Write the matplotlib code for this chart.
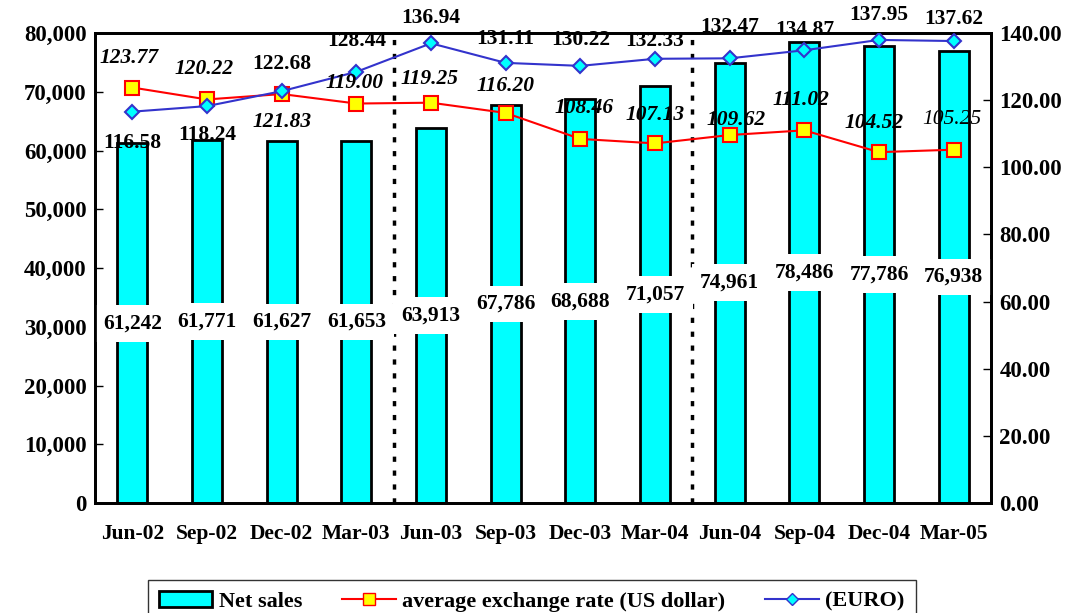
import numpy as np
import matplotlib
matplotlib.use('Agg')
import matplotlib.pyplot as plt
from matplotlib.patches import Patch
from matplotlib.lines import Line2D
from matplotlib.ticker import FuncFormatter, MultipleLocator

plt.rcParams['font.family'] = ['Liberation Serif', 'DejaVu Serif']
plt.rcParams['font.weight'] = 'bold'

quarters = ['Jun-02', 'Sep-02', 'Dec-02', 'Mar-03', 'Jun-03', 'Sep-03',
            'Dec-03', 'Mar-04', 'Jun-04', 'Sep-04', 'Dec-04', 'Mar-05']
net_sales = [61242, 61771, 61627, 61653, 63913, 67786,
             68688, 71057, 74961, 78486, 77786, 76938]
usd_rate = [123.77, 120.22, 121.83, 119.00, 119.25, 116.20,
            108.46, 107.13, 109.62, 111.02, 104.52, 105.25]
euro_rate = [116.58, 118.24, 122.68, 128.44, 136.94, 131.11,
             130.22, 132.33, 132.47, 134.87, 137.95, 137.62]

# label offsets in pixels (x, y), picked by eye
usd_off = [(-3, 30), (-3, 30), (0, -28), (-2, 21), (-2, 24), (0, 27),
           (4, 31), (0, 28), (6, 15), (-3, 30), (-5, 29), (-2, 30)]
eur_off = [(0, -31), (0, -29), (0, 27), (0, 31), (0, 25), (0, 24),
           (0, 26), (0, 18), (0, 31), (0, 20), (0, 25), (0, 22)]

fig = plt.figure(figsize=(10.7, 6.13), dpi=100)
ax = fig.add_axes([0.0888, 0.1794, 0.8374, 0.7667])
ax2 = ax.twinx()

x = np.arange(len(quarters))
ax.bar(x, net_sales, width=0.4, color='#00FFFF', edgecolor='black', linewidth=2, zorder=2)
for i, v in enumerate(net_sales):
    ax.text(x[i], v / 2, f'{v:,}', ha='center', va='center', fontsize=15.5, fontweight='bold',
            bbox=dict(facecolor='white', edgecolor='none', pad=6), zorder=3)

for xv in [3.5, 7.5]:
    ax.axvline(xv, color='black', linestyle=(0, (1.5, 2.5)), linewidth=2.5, zorder=1)

ax.set_xlim(-0.5, len(quarters) - 0.5)
ax.set_ylim(0, 80000)
ax.yaxis.set_major_locator(MultipleLocator(10000))
ax.yaxis.set_major_formatter(FuncFormatter(lambda v, p: f'{int(v):,}'))
ax.set_xticks(x)
ax.set_xticklabels(quarters)
ax.tick_params(axis='x', length=0, labelsize=15.5, pad=15)
ax.tick_params(axis='y', direction='in', length=6, width=1, labelsize=16.5, pad=6)
for s in ax.spines.values():
    s.set_linewidth(2)

ax2.plot(x, usd_rate, color='red', linewidth=1.5, marker='s', markersize=10,
         markerfacecolor='yellow', markeredgecolor='red', markeredgewidth=1.5, zorder=4)
ax2.plot(x, euro_rate, color='#3333CC', linewidth=1.5, marker='D', markersize=7,
         markerfacecolor='#00FFFF', markeredgecolor='#3333CC', markeredgewidth=1.5, zorder=4)
ax2.set_ylim(0, 140)
ax2.yaxis.set_major_locator(MultipleLocator(20))
ax2.yaxis.set_major_formatter(FuncFormatter(lambda v, p: f'{v:.2f}'))
ax2.tick_params(axis='y', direction='in', length=6, width=1, labelsize=16.5, pad=6)
for s in ax2.spines.values():
    s.set_linewidth(2)

for i, v in enumerate(usd_rate):
    w = 'normal' if i == len(usd_rate) - 1 else 'bold'
    ax2.annotate(f'{v:.2f}', (x[i], v), xytext=usd_off[i], textcoords='offset pixels',
                 ha='center', va='center', fontsize=15.5, fontstyle='italic', fontweight=w, zorder=5)
for i, v in enumerate(euro_rate):
    ax2.annotate(f'{v:.2f}', (x[i], v), xytext=eur_off[i], textcoords='offset pixels',
                 ha='center', va='center', fontsize=15.5, fontweight='bold', zorder=5,
                 annotation_clip=False)

handles = [
    Patch(facecolor='#00FFFF', edgecolor='black', linewidth=2),
    Line2D([], [], color='red', linewidth=1.5, marker='s', markersize=9,
           markerfacecolor='yellow', markeredgecolor='red'),
    Line2D([], [], color='#3333CC', linewidth=1.5, marker='D', markersize=6,
           markerfacecolor='#00FFFF', markeredgecolor='#3333CC'),
]
labels = ['Net sales', 'average exchange rate (US dollar)', '(EURO)']
leg = fig.legend(handles, labels, loc='upper center', bbox_to_anchor=(0.497, 0.072), ncol=3,
                 frameon=True, fancybox=False, edgecolor='black', fontsize=16,
                 handlelength=2.4, handletextpad=0.3, columnspacing=1.8, borderpad=0.5)
leg.get_frame().set_linewidth(1)

fig.savefig('out.png', dpi=100)
